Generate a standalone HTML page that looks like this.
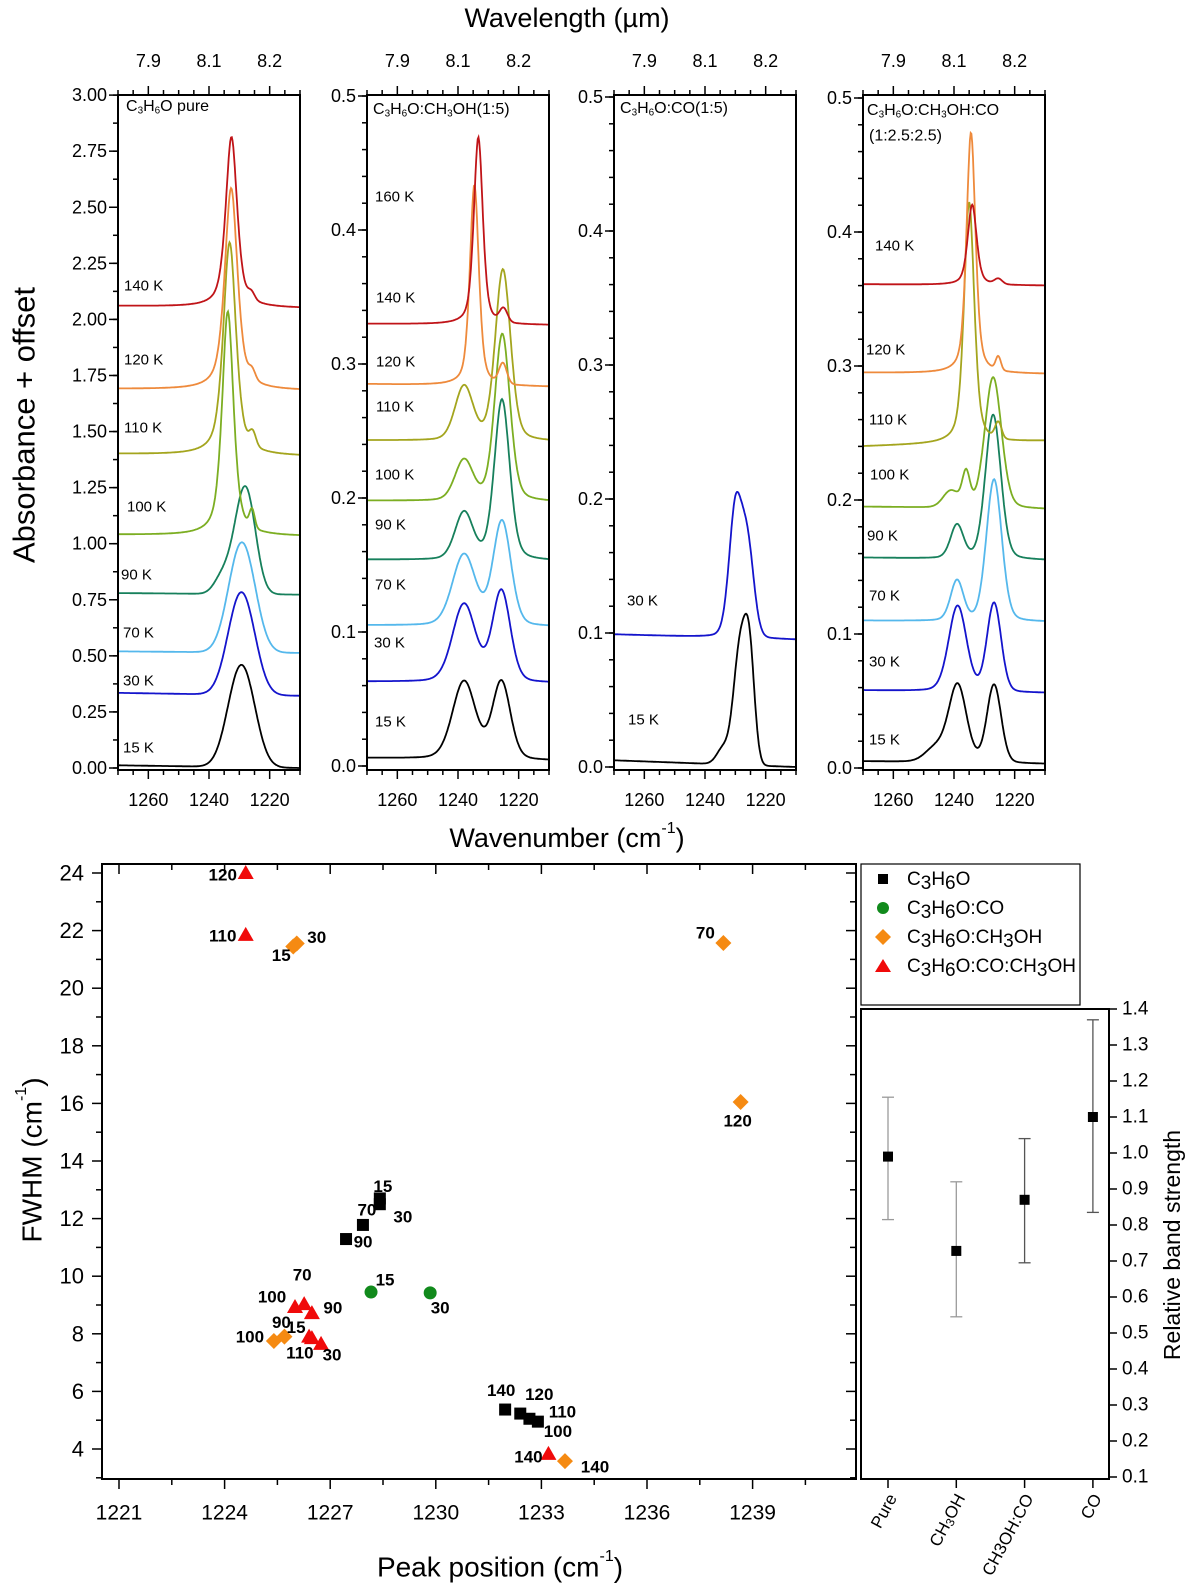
<!DOCTYPE html>
<html><head><meta charset="utf-8"><style>
body{margin:0;background:#fff}
svg{display:block;font-family:"Liberation Sans",Arial,sans-serif}
</style></head><body>
<svg id="fig" width="1200" height="1592" viewBox="0 0 1200 1592" xmlns="http://www.w3.org/2000/svg"></svg>
<script>
// ---------- Spectra data (peaks: [center cm-1, amplitude, fwhm, lorentz fraction]) ----------
const temps1 = ["15","30","70","90","100","110","120","140"];
const base1 = [[0.012,0.0],[0.335,0.322],[0.52,0.513],[0.78,0.773],[1.04,1.033],[1.40,1.39],[1.69,1.683],[2.06,2.05]];
const peaks1 = [
 [[1231.2,0.258,9,0],[1227.4,0.258,9,0]],
 [[1231.2,0.259,9,0],[1227.4,0.259,9,0]],
 [[1231.0,0.276,9,0],[1227.3,0.276,9,0]],
 [[1229.5,0.27,8,0],[1227,0.25,7,0],[1236,0.06,6,0]],
 [[1233.8,1.0,4.5,0.6],[1225.8,0.08,2,0]],
 [[1233.2,0.95,5,0.6],[1225.6,0.06,2.5,0]],
 [[1232.7,0.9,5,0.6],[1225.8,0.04,2.5,0]],
 [[1232.6,0.76,4.5,0.6],[1226,0.03,2.5,0]]
];
const temps2 = ["15","30","70","90","100","110","120","140"];
const base2 = [[0.006,0.004],[0.063,0.062],[0.105,0.104],[0.154,0.153],[0.198,0.197],[0.243,0.242],[0.285,0.283],[0.33,0.329]];
const peaks2 = [
 [[1238,0.058,9,0.2],[1225.7,0.058,7,0.2]],
 [[1238,0.058,9,0.2],[1225.7,0.068,7,0.2]],
 [[1238,0.053,9,0.2],[1225.5,0.078,7,0.2]],
 [[1238,0.035,7,0.2],[1225.5,0.12,6,0.3]],
 [[1238,0.03,7,0.2],[1225.4,0.125,6,0.3]],
 [[1238,0.04,7,0.2],[1225.2,0.128,6,0.3]],
 [[1234.6,0.15,3.5,0.5],[1225.2,0.015,3,0]],
 [[1233.3,0.14,3.5,0.5],[1225,0.01,3,0]]
];
const temps3 = ["15","30"];
const base3 = [[0.005,0.0],[0.099,0.095]];
const peaks3 = [
 [[1228.5,0.085,5,0],[1225.3,0.075,4,0],[1234,0.012,5,0]],
 [[1230,0.095,5,0.2],[1226,0.065,5,0]]
];
const temps4 = ["15","30","70","90","100","110","120","140"];
const base4 = [[0.005,0.003],[0.058,0.056],[0.11,0.109],[0.157,0.155],[0.195,0.193],[0.24,0.244],[0.295,0.294],[0.361,0.36]];
const peaks4 = [
 [[1238.8,0.058,7,0.2],[1226.8,0.058,5.5,0.1],[1246,0.01,8,0]],
 [[1238.8,0.064,7,0.2],[1226.8,0.066,5.5,0.1]],
 [[1239,0.03,5,0.2],[1226.8,0.106,6,0.2]],
 [[1239,0.025,5,0.2],[1227.1,0.108,6,0.2]],
 [[1236,0.025,3,0.2],[1241,0.012,6,0],[1227.1,0.098,6.5,0.2]],
 [[1235,0.18,4,0.5],[1225.4,0.012,2.5,0]],
 [[1234.4,0.18,3.5,0.5],[1225.4,0.01,2,0]],
 [[1234,0.06,3.5,0.5],[1225.4,0.004,3,0]]
];
const tempColors = {"15":"#000000","30":"#1414cc","70":"#55b8ec","90":"#17805c","100":"#7cae22","110":"#a4a51e","120":"#ee8a3c","140":"#c01418"};

// ---------- Scatter data ----------
const sqT = ["15","30","70","90","140","120","110","100"];
const sqX = [1228.41,1228.41,1227.93,1227.45,1231.97,1232.4,1232.66,1232.9];
const sqY = [12.7,12.5,11.78,11.29,5.37,5.23,5.05,4.95];
const ciT = ["15","30"];
const ciX = [1228.16,1229.84];
const ciY = [9.45,9.42];
const diT = ["15","30","70","120","140","100","90"];
const diX = [1225.95,1226.05,1238.17,1238.66,1233.67,1225.4,1225.7];
const diY = [21.45,21.55,21.57,16.05,3.58,7.75,7.9];
const trT = ["120","110","100","70","90","15","110","30","140"];
const trX = [1224.6,1224.6,1226.0,1226.26,1226.48,1226.4,1226.48,1226.74,1233.2];
const trY = [24.0,21.85,8.93,9.03,8.72,7.9,7.85,7.65,3.83];
const xTicks = [1221,1224,1227,1230,1233,1236,1239];
const yTicks = [4,6,8,10,12,14,16,18,20,22,24];

// ---------- Band strength data ----------
const bsCats = ["Pure","CH3OH","CH3OH:CO","CO"];
const bsVal = [0.99,0.728,0.87,1.10];
const bsHi = [1.155,0.92,1.04,1.37];
const bsLo = [0.815,0.545,0.695,0.835];
const bsTicks = [0.1,0.2,0.3,0.4,0.5,0.6,0.7,0.8,0.9,1.0,1.1,1.2,1.3,1.4];

const NS="http://www.w3.org/2000/svg";
const svg=document.getElementById('fig');
function mk(tag,attrs,parent){const e=document.createElementNS(NS,tag);for(const k in attrs)e.setAttribute(k,attrs[k]);(parent||svg).appendChild(e);return e;}
function line(x1,y1,x2,y2,w,c,p){return mk('line',{x1,y1,x2,y2,stroke:c||'#000','stroke-width':w||1},p);}
function txt(x,y,s,size,anchor,p,extra){const t=mk('text',Object.assign({x,y,'font-size':size,'text-anchor':anchor||'start','dominant-baseline':'central',fill:'#000'},extra||{}),p);t.textContent=s;return t;}
function chem(t,parts,size,subScale,shift){ // parts: [text,isSub]
  subScale=subScale||0.62; shift=(shift===undefined)?size*0.28:shift;
  let cur=0;
  parts.forEach(([s,sub])=>{const target=sub?shift:0;const dy=target-cur;cur=target;
    const ts=mk('tspan',{'font-size':sub?size*subScale:size,dy:dy},t);ts.textContent=s;});
}
function pv(x,p){const d=(x-p[0])/p[2];return p[1]*(p[3]/(1+4*d*d)+(1-p[3])*Math.exp(-4*Math.LN2*d*d));}

// ---------- Top panels ----------
const panels=[
 {left:118,y0:768,per:224.3,max:3.0,temps:temps1,base:base1,peaks:peaks1,name:'pure',
  yt:[0,0.25,0.5,0.75,1,1.25,1.5,1.75,2,2.25,2.5,2.75,3],dec:2,minor:0.125,
  labels:[[123,748],[123,681],[123,633],[121,575],[127,507],[124,428],[124,360],[124,286]]},
 {left:367,y0:766,per:1340,max:0.5,temps:temps2,base:base2,peaks:peaks2,name:'ch3oh',
  yt:[0,0.1,0.2,0.3,0.4,0.5],dec:1,minor:0.02,
  labels:[[375,722],[374,643],[375,585],[375,525],[375,475],[376,407],[376,362],[376,298]]},
 {left:614,y0:767,per:1340,max:0.5,temps:temps3,base:base3,peaks:peaks3,name:'co',
  yt:[0,0.1,0.2,0.3,0.4,0.5],dec:1,minor:0.02,
  labels:[[628,720],[627,601]]},
 {left:863,y0:768,per:1340,max:0.5,temps:temps4,base:base4,peaks:peaks4,name:'mix',
  yt:[0,0.1,0.2,0.3,0.4,0.5],dec:1,minor:0.02,
  labels:[[869,740],[869,662],[869,596],[867,536],[870,475],[869,420],[866,350],[875,246]]}
];
const PW=182, PTOP=95, PBOT=770;
const extra160=[375,197];
panels.forEach((P,pi)=>{
  const g=mk('g',{});
  
  
  const wx=wn=>P.left+(1270-wn)*PW/60;
  const vy=v=>P.y0-v*P.per;
  P.temps.forEach((T,i)=>{
    let d='';
    for(let wn=1270;wn>=1210-1e-9;wn-=0.25){
      const f=(1270-wn)/60;let v=P.base[i][0]+(P.base[i][1]-P.base[i][0])*f;
      P.peaks[i].forEach(p=>v+=pv(wn,p));
      d+=(d?'L':'M')+wx(wn).toFixed(1)+','+vy(v).toFixed(1);
    }
    const c=mk('path',{d,fill:'none',stroke:tempColors[T],'stroke-width':1.8},g);
    
    
    const t=txt(P.labels[i][0],P.labels[i][1],T+' K',15,'start',g);
    
    
  });
  if(pi===1){const t=txt(extra160[0],extra160[1],'160 K',15,'start',g);
    }
  mk('rect',{x:P.left,y:PTOP,width:PW,height:PBOT-PTOP,fill:'none',stroke:'#000','stroke-width':2},g);
  for(let v=0;v<=P.max+1e-6;v+=P.minor){line(P.left-5,vy(v),P.left,vy(v),1.5,'#000',g);}
  P.yt.forEach(v=>{line(P.left-9,vy(v),P.left,vy(v),1.5,'#000',g);
    const t=txt(P.left-11,vy(v),v.toFixed(P.dec),18,'end',g);
    });
  for(let wn=1270;wn>=1210;wn-=5){const maj=(wn%20===0);const L=maj?9:5;
    line(wx(wn),PBOT,wx(wn),PBOT+L,1.5,'#000',g);line(wx(wn),PTOP,wx(wn),PTOP-L,1.5,'#000',g);}
  [['1260','7.9'],['1240','8.1'],['1220','8.2']].forEach(([b,t])=>{const wn=+b;
    const a=txt(wx(wn),800,b,18,'middle',g);
    const c=txt(wx(wn),61,t,18,'middle',g);});
});
function title(x,y,parts,name,size){const t=mk('text',{x,y,'font-size':size,'dominant-baseline':'central'});chem(t,parts,size);
  return t;}
title(126,106,[['C',0],['3',1],['H',0],['6',1],['O pure',0]],'panel-title-pure',16);
title(373,109,[['C',0],['3',1],['H',0],['6',1],['O:CH',0],['3',1],['OH(1:5)',0]],'panel-title-ch3oh',16);
title(620,108,[['C',0],['3',1],['H',0],['6',1],['O:CO(1:5)',0]],'panel-title-co',16);
title(867,110,[['C',0],['3',1],['H',0],['6',1],['O:CH',0],['3',1],['OH:CO',0]],'panel-title-mix',16);
{const t=txt(869,136,'(1:2.5:2.5)',16,'start');}
{const t=txt(567,18,'Wavelength (\u00b5m)',27,'middle');}
{const t=mk('text',{x:567,y:838,'font-size':27,'text-anchor':'middle','dominant-baseline':'central'});
 t.innerHTML='Wavenumber (cm<tspan font-size="16" dy="-10">-1</tspan><tspan dy="10">)</tspan>';
 }
{const t=txt(0,0,'Absorbance + offset',31,'middle',null,{transform:'translate(24,425) rotate(-90)'});
 }

// ---------- Scatter ----------
const SL=102,SR=856,ST=864,SB=1479;
const sx=v=>119+(v-1221)*35.2;
const sy=v=>873+(24-v)*28.8;
const sg=mk('g',{});


mk('rect',{x:SL,y:ST,width:SR-SL,height:SB-ST,fill:'none',stroke:'#000','stroke-width':2},sg);
for(let v=1221;v<=1241.5;v+=1.5){const maj=Math.abs((v-1221)%3)<1e-6;const L=maj?10:6;
  line(sx(v),SB,sx(v),SB+L,1.5,'#000',sg);line(sx(v),ST,sx(v),ST+L,1.5,'#000',sg);}
for(let v=3;v<=24;v+=1){const maj=v%2===0;const L=maj?10:6;
  line(SL-L,sy(v),SL,sy(v),1.5,'#000',sg);line(SR-L,sy(v),SR,sy(v),1.5,'#000',sg);}
xTicks.forEach(v=>{const t=txt(sx(v),1513,String(v),21,'middle',sg,{'font-family':'"Liberation Sans Narrow","Liberation Sans",sans-serif'});
  });
yTicks.forEach(v=>{const t=txt(84,sy(v),String(v),22,'end',sg);
  });
{const t=mk('text',{x:500,y:1567,'font-size':28,'text-anchor':'middle','dominant-baseline':'central'},sg);
 t.innerHTML='Peak position (cm<tspan font-size="16" dy="-11">-1</tspan><tspan dy="11">)</tspan>';
 }
{const t=mk('text',{x:0,y:0,'font-size':28,'text-anchor':'middle','dominant-baseline':'central',transform:'translate(32,1160) rotate(-90)'},sg);
 t.innerHTML='FWHM (cm<tspan font-size="16" dy="-11">-1</tspan><tspan dy="11">)</tspan>';
 }
const lblFont='"Liberation Sans Narrow","Liberation Sans",sans-serif';
const sqOff=[[3,-12],[23,13],[4,-15],[17,3],[-4,-19],[19,-19],[33,-7],[20,10]];
const ciOff=[[14,-12],[10,15]];
const diOff=[[-12,9],[20,-6],[-18,-10],[-3,19],[30,6],[-24,-4],[-3,-14]];
const trOff=[[-23,2],[-23,1],[-23,-10],[-2,-29],[21,-5],[-13,-9],[-12,15],[11,11],[-20,3]];
function ptLabel(x,y,s){const t=txt(x,y,s,17,'middle',sg,{'font-weight':'bold','font-family':lblFont});
  }
sqX.forEach((v,i)=>{const x=sx(v),y=sy(sqY[i]);
  const m=mk('rect',{x:x-6,y:y-6,width:12,height:12,fill:'#000'},sg);
  
  ptLabel(x+sqOff[i][0],y+sqOff[i][1],sqT[i]);});
ciX.forEach((v,i)=>{const x=sx(v),y=sy(ciY[i]);
  const m=mk('circle',{cx:x,cy:y,r:6.5,fill:'#118a1c'},sg);
  
  ptLabel(x+ciOff[i][0],y+ciOff[i][1],ciT[i]);});
diX.forEach((v,i)=>{const x=sx(v),y=sy(diY[i]);
  const m=mk('path',{d:`M${x},${y-8}L${x+8},${y}L${x},${y+8}L${x-8},${y}Z`,fill:'#f58a12'},sg);
  
  ptLabel(x+diOff[i][0],y+diOff[i][1],diT[i]);});
trX.forEach((v,i)=>{const x=sx(v),y=sy(trY[i]);
  const m=mk('path',{d:`M${x},${y-8}L${x+8},${y+6}L${x-8},${y+6}Z`,fill:'#f00a0a'},sg);
  
  ptLabel(x+trOff[i][0],y+trOff[i][1],trT[i]);});

// legend
const lg=mk('g',{});


mk('rect',{x:861,y:864,width:219,height:141,fill:'#fff',stroke:'#000','stroke-width':1.2},lg);
const legParts=[
 [['C',0],['3',1],['H',0],['6',1],['O',0]],
 [['C',0],['3',1],['H',0],['6',1],['O:CO',0]],
 [['C',0],['3',1],['H',0],['6',1],['O:CH',0],['3',1],['OH',0]],
 [['C',0],['3',1],['H',0],['6',1],['O:CO:CH',0],['3',1],['OH',0]]];
const legY=[879,908,937,966];
legY.forEach((y,i)=>{const x=883;let m;
  if(i===0)m=mk('rect',{x:x-5,y:y-5,width:10,height:10,fill:'#000'},lg);
  if(i===1)m=mk('circle',{cx:x,cy:y,r:6,fill:'#118a1c'},lg);
  if(i===2)m=mk('path',{d:`M${x},${y-8}L${x+8},${y}L${x},${y+8}L${x-8},${y}Z`,fill:'#f58a12'},lg);
  if(i===3)m=mk('path',{d:`M${x},${y-7}L${x+8},${y+6}L${x-8},${y+6}Z`,fill:'#f00a0a'},lg);
  
  const t=mk('text',{x:907,y,'font-size':19,'dominant-baseline':'central'},lg);
  chem(t,legParts[i],19,1,4);
  
});

// ---------- Band strength panel ----------
const BL=861,BR=1109,BT=1009,BB=1479;
const cx=i=>888+i*68.3;
const ry=v=>BT+(1.4-v)*360;
const bg=mk('g',{});


mk('rect',{x:BL,y:BT,width:BR-BL,height:BB-BT,fill:'none',stroke:'#000','stroke-width':2},bg);
bsTicks.forEach(v=>{line(BR,ry(v),BR+8,ry(v),1.5,'#000',bg);
  const t=txt(BR+13,ry(v),v.toFixed(1),19,'start',bg);});
{const t=txt(0,0,'Relative band strength',23,'middle',bg,{transform:'translate(1172,1245) rotate(-90)'});
 }
const catParts=[[['Pure',0]],[['CH',0],['3',1],['OH',0]],[['CH3OH:CO',0]],[['CO',0]]];
bsCats.forEach((c,i)=>{const x=cx(i);
  line(x,BB,x,BB+9,1.5,'#000',bg);
  const col=i<2?'#9a9a9a':'#555';
  line(x,ry(bsHi[i]),x,ry(bsLo[i]),1.3,col,bg);
  line(x-6,ry(bsHi[i]),x+6,ry(bsHi[i]),1.3,col,bg);
  line(x-6,ry(bsLo[i]),x+6,ry(bsLo[i]),1.3,col,bg);
  const m=mk('rect',{x:x-5,y:ry(bsVal[i])-5,width:10,height:10,fill:'#000'},bg);
  
  
  const t=mk('text',{x:0,y:0,'font-size':17,'text-anchor':'end','dominant-baseline':'central',transform:`translate(${x+4},${BB+16}) rotate(-62)`},bg);
  chem(t,catParts[i],17,0.7,4);
  
});
</script>
</body></html>
